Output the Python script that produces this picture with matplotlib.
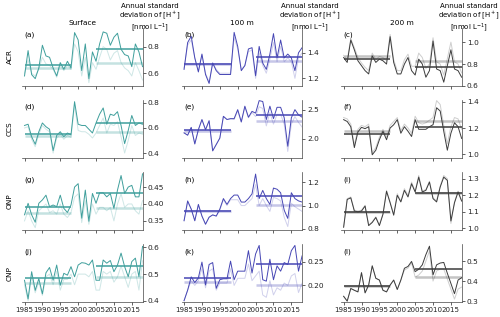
import numpy as np
import matplotlib.pyplot as plt

years = np.arange(1985, 2019)
regions = ['ACR', 'CCS', 'ONP', 'CNP']
depths = ['Surface', '100 m', '200 m']
letters = 'abcdefghijkl'

# dark = full series, light = second (faint) series; means: [dark early, dark late, light early, light late]
acr_surf = [0.58, 0.77, 0.59, 0.56, 0.64, 0.81, 0.73, 0.72, 0.64, 0.58, 0.68, 0.63, 0.69, 0.64,
            0.905, 0.85, 0.62, 0.82, 0.56, 0.76,
            0.69, 0.82, 0.91, 0.90, 0.81, 0.87, 0.90, 0.78, 0.74, 0.73, 0.65, 0.82, 0.76, 0.65]
acr_surf_lt = [0.60, 0.70, 0.60, 0.58, 0.63, 0.72, 0.67, 0.66, 0.63, 0.57, 0.66, 0.62, 0.66, 0.63,
               0.82, 0.76, 0.58, 0.72, 0.53, 0.68,
               0.63, 0.72, 0.80, 0.78, 0.70, 0.75, 0.77, 0.68, 0.64, 0.62, 0.58, 0.68, 0.62, 0.55]
acr_surf_means = [0.665, 0.78, 0.64, 0.68]

acr_100 = [1.27, 1.48, 1.53, 1.36, 1.25, 1.39, 1.23, 1.16, 1.32, 1.26, 1.23, 1.23, 1.23, 1.23,
           1.56, 1.45, 1.26, 1.30, 1.43, 1.44,
           1.22, 1.45, 1.32, 1.27, 1.39, 1.55, 1.36, 1.50, 1.36, 1.39, 1.36, 1.26, 1.40, 1.44]
acr_100_lt = [1.28, 1.46, 1.50, 1.36, 1.26, 1.38, 1.24, 1.17, 1.32, 1.27, 1.24, 1.24, 1.24, 1.24,
              1.52, 1.43, 1.27, 1.30, 1.41, 1.42,
              1.20, 1.40, 1.30, 1.24, 1.35, 1.48, 1.33, 1.45, 1.33, 1.36, 1.33, 1.20, 1.36, 1.40]
acr_100_means = [1.31, 1.37, 1.31, 1.335]

acr_200 = [0.86, 0.815, 1.02, 0.93, 0.83, 0.785, 0.74, 0.71, 0.875, 0.815, 0.845, 0.83, 0.80, 1.05,
           0.815, 0.71, 0.71, 0.80, 0.86, 0.74,
           0.70, 0.845, 0.80, 0.68, 0.74, 1.01, 0.755, 0.74, 0.635, 0.785, 0.93, 0.755, 0.74, 0.68]
acr_200_lt = [0.88, 0.84, 1.03, 0.95, 0.86, 0.81, 0.77, 0.74, 0.90, 0.84, 0.87, 0.86, 0.83, 1.07,
              0.84, 0.74, 0.74, 0.84, 0.89, 0.78,
              0.78, 0.90, 0.86, 0.76, 0.80, 1.04, 0.82, 0.80, 0.70, 0.85, 1.00, 0.82, 0.80, 0.72]
acr_200_means = [0.845, 0.77, 0.87, 0.83]

ccs_surf = [0.62, 0.63, 0.53, 0.47, 0.57, 0.64, 0.61, 0.59, 0.42, 0.54, 0.57, 0.53, 0.56, 0.545,
            0.81, 0.63, 0.62, 0.62, 0.59, 0.56,
            0.64, 0.71, 0.76, 0.63, 0.71, 0.70, 0.73, 0.62, 0.475, 0.58, 0.70, 0.62, 0.64, 0.63]
ccs_surf_lt = [0.60, 0.61, 0.51, 0.45, 0.55, 0.62, 0.59, 0.57, 0.40, 0.52, 0.55, 0.51, 0.54, 0.525,
               0.78, 0.58, 0.57, 0.57, 0.55, 0.52,
               0.56, 0.62, 0.68, 0.56, 0.63, 0.62, 0.65, 0.53, 0.40, 0.50, 0.62, 0.54, 0.56, 0.55]
ccs_surf_means = [0.552, 0.64, 0.535, 0.565]

ccs_100 = [2.10, 2.06, 2.195, 1.91, 2.155, 2.33, 2.155, 2.31, 1.79, 1.90, 2.01, 2.385, 2.33, 2.345,
           2.345, 2.50, 2.29, 2.56, 2.37, 2.47,
           2.44, 2.655, 2.64, 2.33, 2.56, 2.345, 2.54, 2.54, 2.36, 1.87, 2.36, 2.50, 2.41, 2.37]
ccs_100_lt = [2.10, 2.06, 2.19, 1.91, 2.15, 2.32, 2.15, 2.30, 1.79, 1.90, 2.01, 2.38, 2.33, 2.34,
              2.33, 2.48, 2.28, 2.54, 2.36, 2.45,
              2.38, 2.55, 2.52, 2.22, 2.45, 2.25, 2.42, 2.42, 2.25, 1.78, 2.25, 2.38, 2.28, 2.20]
ccs_100_means = [2.145, 2.414, 2.14, 2.31]

ccs_200 = [1.264, 1.25, 1.21, 1.05, 1.17, 1.205, 1.195, 1.21, 0.995, 1.03, 1.11, 1.175, 1.11, 1.20,
           1.225, 1.264, 1.16, 1.21, 1.175, 1.135,
           1.264, 1.19, 1.19, 1.19, 1.21, 1.225, 1.355, 1.33, 1.175, 1.03, 1.16, 1.24, 1.21, 1.12]
ccs_200_lt = [1.28, 1.27, 1.23, 1.07, 1.19, 1.22, 1.21, 1.23, 1.01, 1.05, 1.13, 1.19, 1.13, 1.22,
              1.25, 1.28, 1.18, 1.23, 1.20, 1.16,
              1.29, 1.24, 1.23, 1.24, 1.26, 1.28, 1.41, 1.38, 1.22, 1.08, 1.21, 1.28, 1.27, 1.19]
ccs_200_means = [1.154, 1.205, 1.175, 1.255]

onp_surf = [0.368, 0.402, 0.368, 0.346, 0.402, 0.412, 0.426, 0.392, 0.397, 0.392, 0.426, 0.387, 0.375, 0.397,
            0.45, 0.46, 0.358, 0.441, 0.349, 0.431,
            0.402, 0.433, 0.433, 0.421, 0.431, 0.387, 0.441, 0.484, 0.431, 0.45, 0.455, 0.421, 0.421, 0.489]
onp_surf_lt = [0.35, 0.38, 0.35, 0.33, 0.38, 0.39, 0.40, 0.375, 0.38, 0.37, 0.40, 0.37, 0.36, 0.375,
               0.42, 0.43, 0.345, 0.41, 0.34, 0.40,
               0.37, 0.39, 0.39, 0.38, 0.39, 0.35, 0.40, 0.43, 0.39, 0.40, 0.40, 0.38, 0.37, 0.41]
onp_surf_means = [0.392, 0.433, 0.373, 0.387]

onp_100 = [0.87, 1.04, 0.97, 0.87, 1.01, 0.91, 0.84, 0.90, 0.92, 0.91, 0.97, 1.06, 1.01, 1.06,
           1.09, 1.09, 1.03, 1.03, 1.06, 1.10,
           1.27, 1.06, 1.13, 1.06, 1.01, 1.15, 1.14, 1.11, 0.96, 0.89, 1.11, 1.06, 1.04, 1.03]
onp_100_lt = [0.87, 1.03, 0.97, 0.87, 1.00, 0.91, 0.84, 0.90, 0.92, 0.91, 0.96, 1.05, 1.00, 1.05,
              1.05, 1.05, 1.00, 1.00, 1.03, 1.06,
              1.18, 1.00, 1.06, 1.00, 0.95, 1.07, 1.06, 1.04, 0.90, 0.82, 1.02, 0.99, 0.97, 0.95]
onp_100_means = [0.95, 1.08, 0.95, 1.005]

onp_200 = [1.007, 1.175, 1.185, 1.105, 1.10, 1.105, 1.135, 1.017, 1.036, 1.066, 1.017, 1.085, 1.224, 1.155,
           1.08, 1.20, 1.16, 1.23, 1.19, 1.27,
           1.22, 1.31, 1.22, 1.23, 1.28, 1.18, 1.16, 1.25, 1.31, 1.29, 1.045, 1.155, 1.22, 1.165]
onp_200_lt = [1.01, 1.18, 1.19, 1.11, 1.105, 1.11, 1.14, 1.02, 1.04, 1.07, 1.02, 1.09, 1.23, 1.16,
              1.085, 1.21, 1.165, 1.24, 1.20, 1.28,
              1.225, 1.32, 1.225, 1.235, 1.285, 1.185, 1.165, 1.255, 1.32, 1.30, 1.03, 1.16, 1.225, 1.17]
onp_200_means = [1.098, 1.213, 1.10, 1.215]

cnp_surf = [0.477, 0.407, 0.509, 0.439, 0.483, 0.426, 0.505, 0.525, 0.477, 0.534, 0.458, 0.503, 0.496, 0.528,
            0.49, 0.534, 0.543, 0.541, 0.534, 0.553,
            0.477, 0.477, 0.553, 0.541, 0.551, 0.509, 0.534, 0.579, 0.528, 0.49, 0.547, 0.56, 0.49, 0.604]
cnp_surf_lt = [0.46, 0.40, 0.49, 0.43, 0.47, 0.42, 0.49, 0.50, 0.46, 0.51, 0.44, 0.48, 0.48, 0.50,
               0.46, 0.50, 0.50, 0.50, 0.49, 0.51,
               0.44, 0.44, 0.51, 0.50, 0.51, 0.47, 0.49, 0.53, 0.49, 0.45, 0.50, 0.51, 0.44, 0.55]
cnp_surf_means = [0.484, 0.532, 0.467, 0.49]

cnp_100 = [0.168, 0.19, 0.218, 0.206, 0.216, 0.249, 0.201, 0.244, 0.248, 0.194, 0.212, 0.214, 0.214, 0.251,
           0.212, 0.23, 0.23, 0.23, 0.273, 0.226,
           0.266, 0.284, 0.212, 0.209, 0.255, 0.212, 0.241, 0.23, 0.248, 0.244, 0.273, 0.284, 0.23, 0.262]
cnp_100_lt = [0.168, 0.19, 0.21, 0.20, 0.21, 0.235, 0.195, 0.23, 0.235, 0.19, 0.205, 0.205, 0.205, 0.235,
              0.20, 0.215, 0.215, 0.215, 0.245, 0.21,
              0.22, 0.23, 0.18, 0.175, 0.21, 0.18, 0.195, 0.19, 0.205, 0.20, 0.22, 0.225, 0.185, 0.205]
cnp_100_means = [0.216, 0.244, 0.207, 0.2015]

cnp_200 = [0.324, 0.30, 0.363, 0.354, 0.346, 0.442, 0.341, 0.38, 0.476, 0.414, 0.405, 0.354, 0.346, 0.38,
           0.405, 0.358, 0.405, 0.464, 0.473, 0.498,
           0.447, 0.459, 0.481, 0.532, 0.574, 0.431, 0.481, 0.49, 0.493, 0.439, 0.388, 0.337, 0.405, 0.417]
cnp_200_lt = [0.324, 0.30, 0.363, 0.354, 0.346, 0.442, 0.341, 0.38, 0.476, 0.414, 0.405, 0.354, 0.346, 0.38,
              0.405, 0.358, 0.405, 0.455, 0.465, 0.49,
              0.42, 0.43, 0.45, 0.50, 0.55, 0.40, 0.45, 0.46, 0.46, 0.41, 0.36, 0.31, 0.36, 0.37]
cnp_200_means = [0.375, 0.462, 0.375, 0.422]

series = [
    [(acr_surf, acr_surf_lt, acr_surf_means), (acr_100, acr_100_lt, acr_100_means), (acr_200, acr_200_lt, acr_200_means)],
    [(ccs_surf, ccs_surf_lt, ccs_surf_means), (ccs_100, ccs_100_lt, ccs_100_means), (ccs_200, ccs_200_lt, ccs_200_means)],
    [(onp_surf, onp_surf_lt, onp_surf_means), (onp_100, onp_100_lt, onp_100_means), (onp_200, onp_200_lt, onp_200_means)],
    [(cnp_surf, cnp_surf_lt, cnp_surf_means), (cnp_100, cnp_100_lt, cnp_100_means), (cnp_200, cnp_200_lt, cnp_200_means)],
]

ylims = [[(0.505, 0.94), (1.14, 1.595), (0.60, 1.13)],
         [(0.36, 0.824), (1.667, 2.667), (0.97, 1.415)],
         [(0.323, 0.4945), (0.79, 1.288), (0.99, 1.341)],
         [(0.395, 0.613), (0.165, 0.287), (0.295, 0.585)]]
yticks = [[[0.6, 0.8], [1.2, 1.4], [0.6, 0.8, 1.0]],
          [[0.4, 0.6, 0.8], [2.0, 2.5], [1.0, 1.2, 1.4]],
          [[0.35, 0.40, 0.45], [0.8, 1.0, 1.2], [1.0, 1.1, 1.2, 1.3]],
          [[0.4, 0.5, 0.6], [0.20, 0.25], [0.3, 0.4, 0.5]]]
yfmt = [['%.1f', '%.1f', '%.1f'], ['%.1f', '%.1f', '%.1f'],
        ['%.2f', '%.1f', '%.1f'], ['%.1f', '%.2f', '%.1f']]
colors = ['#3f9f9c', '#4646b4', '#3c3c3c']

early = (1985, 1998)
late = (2005, 2018)
fs = 5.3

fig, axes = plt.subplots(4, 3, figsize=(5.0, 3.17), dpi=100)
plt.subplots_adjust(left=0.044, right=0.924, top=0.912, bottom=0.047, wspace=0.32, hspace=0.24)

for r in range(4):
    for c in range(3):
        ax = axes[r, c]
        dark, light, m = series[r][c]
        col = colors[c]
        ax.plot(years, light, color=col, alpha=0.25, lw=0.7)
        ax.plot(years, dark, color=col, lw=0.7)
        ax.plot(early, [m[2], m[2]], color=col, alpha=0.3, lw=1.8, solid_capstyle='butt')
        ax.plot(late, [m[3], m[3]], color=col, alpha=0.3, lw=1.8, solid_capstyle='butt')
        ax.plot(early, [m[0], m[0]], color=col, lw=1.1, solid_capstyle='butt')
        ax.plot(late, [m[1], m[1]], color=col, lw=1.1, solid_capstyle='butt')

        ax.set_xlim(1984.3, 2018.1)
        ax.set_ylim(*ylims[r][c])
        ax.set_yticks(yticks[r][c])
        ax.set_yticklabels([yfmt[r][c] % v for v in yticks[r][c]])
        ax.set_xticks(range(1985, 2016, 5))
        if r == 3:
            ax.set_xticklabels([str(y) for y in range(1985, 2016, 5)])
        else:
            ax.set_xticklabels([])
        ax.yaxis.tick_right()
        ax.spines['top'].set_visible(False)
        ax.spines['left'].set_visible(False)
        for s in ['bottom', 'right']:
            ax.spines[s].set_linewidth(0.5)
            ax.spines[s].set_color('#444444')
        ax.tick_params(labelsize=fs, length=2, width=0.5, pad=1.5, colors='#222222')
        ax.tick_params(axis='x', labelsize=5.1)
        ax.text(0.02, 0.93, '(%s)' % letters[r * 3 + c], transform=ax.transAxes,
                fontsize=fs, va='top', ha='left')
        if c == 0:
            ax.text(-0.1, 0.5, regions[r], transform=ax.transAxes, fontsize=fs,
                    rotation=90, va='center', ha='center')
        if r == 0:
            ax.text(0.5, 1.03, depths[c], transform=ax.transAxes, fontsize=fs,
                    ha='center', va='bottom')
            ax.text(1.06, 1.43, 'Annual standard\ndeviation of [H$^+$]\n[nmol L$^{-1}$]',
                    transform=ax.transAxes, fontsize=5.0, ha='center', va='top',
                    linespacing=1.0)

plt.savefig('out.png', dpi=100)
